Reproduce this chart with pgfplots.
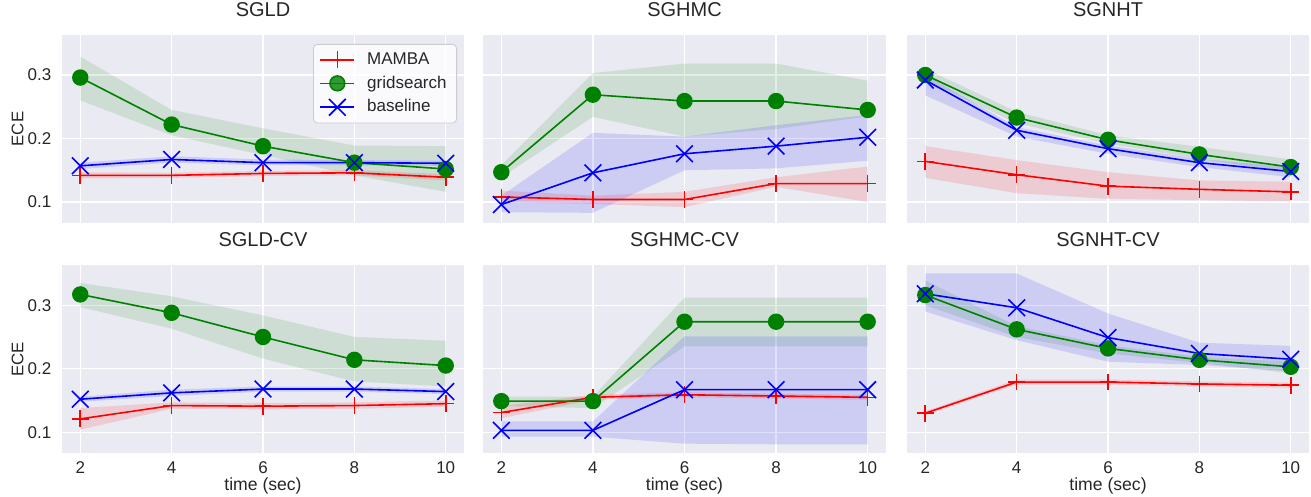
\documentclass[border=0pt]{standalone}
\usepackage{fontspec}
\setmainfont{Liberation Sans}
\usepackage{pgfplots}
\usepackage{pgfplotstable}
\pgfplotsset{compat=1.18}
\usepgfplotslibrary{fillbetween}

\definecolor{bg}{HTML}{EAEAF2}
\definecolor{mred}{rgb}{1,0,0}
\definecolor{mgreen}{rgb}{0,0.502,0}
\definecolor{mblue}{rgb}{0,0,1}
\definecolor{txt}{HTML}{262626}

% columns: x, MAMBA (mean, low, high), gridsearch (mean, low, high), baseline (mean, low, high)
\pgfplotstableread{
x m mlo mhi g glo ghi b blo bhi
2 0.142 0.137 0.147 0.296 0.260 0.329 0.157 0.152 0.162
4 0.142 0.138 0.146 0.222 0.205 0.245 0.167 0.162 0.172
6 0.145 0.141 0.149 0.188 0.174 0.216 0.162 0.158 0.167
8 0.146 0.142 0.150 0.162 0.142 0.189 0.162 0.158 0.166
10 0.139 0.134 0.144 0.152 0.116 0.188 0.161 0.157 0.165
}\tSGLD
\pgfplotstableread{
x m mlo mhi g glo ghi b blo bhi
2 0.108 0.100 0.118 0.147 0.139 0.158 0.096 0.084 0.110
4 0.104 0.097 0.110 0.269 0.234 0.303 0.146 0.083 0.209
6 0.104 0.092 0.116 0.259 0.203 0.318 0.176 0.150 0.203
8 0.129 0.124 0.139 0.259 0.215 0.318 0.188 0.153 0.221
10 0.129 0.100 0.156 0.245 0.235 0.291 0.202 0.165 0.237
}\tSGHMC
\pgfplotstableread{
x m mlo mhi g glo ghi b blo bhi
2 0.164 0.138 0.188 0.300 0.292 0.310 0.292 0.268 0.300
4 0.143 0.114 0.166 0.233 0.224 0.242 0.213 0.203 0.218
6 0.125 0.105 0.147 0.198 0.192 0.205 0.184 0.176 0.189
8 0.120 0.103 0.134 0.175 0.168 0.187 0.162 0.155 0.168
10 0.116 0.101 0.132 0.155 0.147 0.167 0.148 0.139 0.155
}\tSGNHT
\pgfplotstableread{
x m mlo mhi g glo ghi b blo bhi
2 0.121 0.104 0.138 0.317 0.297 0.335 0.152 0.148 0.156
4 0.142 0.137 0.147 0.288 0.263 0.314 0.162 0.157 0.167
6 0.141 0.136 0.146 0.250 0.216 0.284 0.168 0.164 0.172
8 0.142 0.137 0.147 0.214 0.180 0.250 0.168 0.164 0.172
10 0.145 0.140 0.150 0.205 0.172 0.244 0.164 0.160 0.168
}\tSGLDCV
\pgfplotstableread{
x m mlo mhi g glo ghi b blo bhi
2 0.131 0.122 0.141 0.149 0.141 0.156 0.103 0.093 0.117
4 0.155 0.151 0.159 0.149 0.138 0.156 0.103 0.093 0.117
6 0.159 0.155 0.163 0.274 0.235 0.312 0.167 0.082 0.251
8 0.157 0.153 0.161 0.274 0.235 0.312 0.167 0.081 0.251
10 0.155 0.151 0.159 0.274 0.235 0.312 0.167 0.081 0.251
}\tSGHMCCV
\pgfplotstableread{
x m mlo mhi g glo ghi b blo bhi
2 0.130 0.127 0.133 0.316 0.300 0.339 0.318 0.290 0.350
4 0.179 0.175 0.183 0.262 0.250 0.267 0.296 0.245 0.350
6 0.179 0.175 0.183 0.232 0.224 0.237 0.249 0.211 0.287
8 0.176 0.172 0.180 0.214 0.209 0.219 0.224 0.206 0.241
10 0.174 0.170 0.178 0.203 0.193 0.211 0.215 0.196 0.236
}\tSGNHTCV

\pgfplotsset{
  pan/.style={
    scale only axis, height=94pt,
    xmin=1.6, xmax=10.4, ymin=0.067, ymax=0.363,
    axis background/.style={fill=bg},
    axis line style={draw=none},
    grid=major, major grid style={white, line width=0.7pt},
    xtick={2,4,6,8,10}, ytick={0.1,0.2,0.3},
    major tick length=0pt,
    /pgf/number format/assume math mode=true,
    tick label style={font=\fontsize{8.5}{9}\selectfont, text=txt},
    xticklabel style={yshift=-0.8pt},
    yticklabel style={xshift=-1.8pt},
    title style={font=\fontsize{10}{11}\selectfont, text=txt, at={(axis description cs:0.5,1)}, anchor=base, yshift=3.4pt},
    every axis x label/.style={at={(axis description cs:0.5,0)}, yshift=-18.8pt, anchor=base, font=\fontsize{8.8}{10}\selectfont, text=txt},
    every axis y label/.style={at={(axis description cs:0,0.5)}, xshift=-19.3pt, rotate=90, anchor=base, font=\fontsize{8.4}{10}\selectfont, text=txt},
  },
  noxt/.style={xticklabels={}},
  noyt/.style={yticklabels={}},
}

\newcommand{\panel}[6]{%
\begin{axis}[pan, at={(#1,#2)}, width=#3, title={#5}, #6]
  \addplot[name path=mhi, draw=none, forget plot] table[x=x,y=mhi]{#4};
  \addplot[name path=mlo, draw=none, forget plot] table[x=x,y=mlo]{#4};
  \addplot[fill=mred, fill opacity=0.13, draw=none, forget plot] fill between[of=mhi and mlo];
  \addplot[mred, line width=0.8pt, mark=+, mark size=4.2pt, mark options={mred, line width=0.8pt, solid}] table[x=x,y=m]{#4};
  \addplot[name path=ghi, draw=none, forget plot] table[x=x,y=ghi]{#4};
  \addplot[name path=glo, draw=none, forget plot] table[x=x,y=glo]{#4};
  \addplot[fill=mgreen, fill opacity=0.12, draw=none, forget plot] fill between[of=ghi and glo];
  \addplot[mgreen, line width=0.8pt, mark=*, mark size=3.7pt, mark options={draw=mgreen, fill=mgreen, solid}] table[x=x,y=g]{#4};
  \addplot[name path=bhi, draw=none, forget plot] table[x=x,y=bhi]{#4};
  \addplot[name path=blo, draw=none, forget plot] table[x=x,y=blo]{#4};
  \addplot[fill=mblue, fill opacity=0.12, draw=none, forget plot] fill between[of=bhi and blo];
  \addplot[mblue, line width=0.8pt, mark=x, mark size=5.9pt, mark options={mblue, line width=0.8pt, solid}] table[x=x,y=b]{#4};
\end{axis}}

\begin{document}
\begin{tikzpicture}
\panel{31pt}{137pt}{201pt}{\tSGLD}{SGLD}{noxt, ylabel={ECE},
  legend entries={MAMBA,gridsearch,baseline}, legend cell align=left,
  legend style={at={(1,1)}, anchor=north east, xshift=-3.5pt, yshift=-4.5pt,
    fill=white, fill opacity=0.8, text opacity=1, draw=black!20, rounded corners=2pt,
    font=\fontsize{8.5}{10}\selectfont, text=txt, row sep=0.3pt, column sep=4pt,
    inner xsep=3pt}}
\panel{241.5pt}{137pt}{201.5pt}{\tSGHMC}{SGHMC}{noxt, noyt}
\panel{453.5pt}{137pt}{201pt}{\tSGNHT}{SGNHT}{noxt, noyt}
\panel{31pt}{21.9pt}{201pt}{\tSGLDCV}{SGLD-CV}{xlabel={time (sec)}, ylabel={ECE}}
\panel{241.5pt}{21.9pt}{201.5pt}{\tSGHMCCV}{SGHMC-CV}{noyt, xlabel={time (sec)}}
\panel{453.5pt}{21.9pt}{201pt}{\tSGNHTCV}{SGNHT-CV}{noyt, xlabel={time (sec)}}
\pgfresetboundingbox
\path[use as bounding box] (0,0) rectangle (655.5pt,248.5pt);
\end{tikzpicture}
\end{document}
